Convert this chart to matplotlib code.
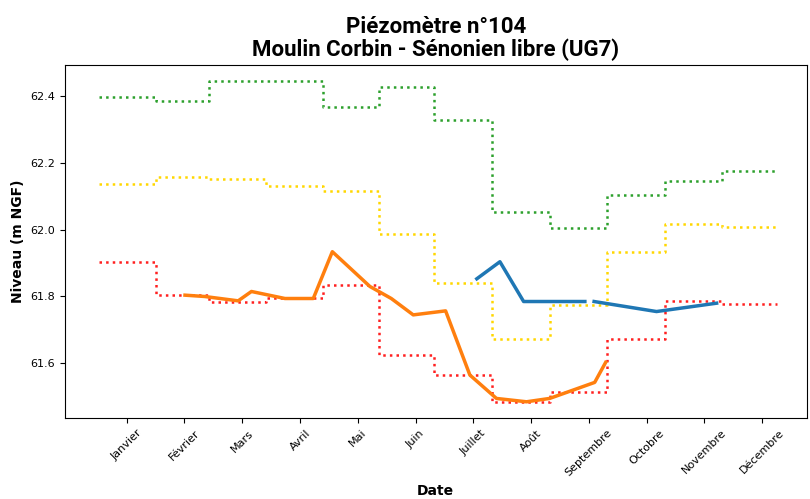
import numpy as np
import matplotlib
matplotlib.use("Agg")
import matplotlib.pyplot as plt

months = ["Janvier", "Février", "Mars", "Avril", "Mai", "Juin", "Juillet",
          "Août", "Septembre", "Octobre", "Novembre", "Décembre"]

# monthly step boundaries (in month units, 0 = Janvier)
step_edges = [-0.48, 0.5, 1.43, 2.41, 3.39, 4.36, 5.32, 6.33, 7.33, 8.31, 9.31, 10.30, 11.25]

high_levels = [62.397, 62.386, 62.446, 62.446, 62.366, 62.427, 62.327,
               62.054, 62.004, 62.104, 62.146, 62.176]
mid_levels = [62.137, 62.157, 62.152, 62.132, 62.116, 61.987, 61.841,
              61.673, 61.775, 61.934, 62.016, 62.009]
low_levels = [61.904, 61.805, 61.785, 61.797, 61.835, 61.625, 61.565,
              61.485, 61.513, 61.673, 61.787, 61.777]

prev_x = [1.01, 1.35, 1.93, 2.16, 2.74, 3.23, 3.56, 4.21, 4.58, 4.96,
          5.52, 5.94, 6.40, 6.92, 7.32, 8.10, 8.29]
prev_y = [61.804, 61.800, 61.787, 61.815, 61.794, 61.794, 61.934, 61.830,
          61.794, 61.745, 61.757, 61.565, 61.495, 61.485, 61.495, 61.543, 61.603]

cur_x = [6.06, 6.46, 6.87, 7.93, 8.01, 8.09, 9.17, 10.21]
cur_y = [61.853, 61.904, 61.785, 61.785, np.nan, 61.785, 61.755, 61.780]

fig = plt.figure(figsize=(8.10, 4.99), dpi=100)
ax = fig.add_axes([0.080, 0.162, 0.916, 0.708])

def step_line(levels, color):
    ys = list(levels) + [levels[-1]]
    ax.step(step_edges, ys, where="post", color=color, linestyle=":", linewidth=1.8)

step_line(high_levels, "#2ca02c")
step_line(mid_levels, "#ffd700")
step_line(low_levels, "#ff2020")

ax.plot(prev_x, prev_y, color="#ff7f0e", linewidth=2.5)
ax.plot(cur_x, cur_y, color="#1f77b4", linewidth=2.5)

ax.set_xlim(-1.07, 11.77)
ax.set_ylim(61.436, 62.493)
ax.set_xticks(range(len(months)))
ax.set_xticklabels(months, rotation=45, fontsize=8)
ax.set_yticks([61.6, 61.8, 62.0, 62.2, 62.4])
ax.set_yticklabels(["61.6", "61.8", "62.0", "62.2", "62.4"], fontsize=8)

ax.set_xlabel("Date", fontsize=10, fontweight="bold")
ax.set_ylabel("Niveau (m NGF)", fontsize=10, fontweight="bold")
ax.set_title("Piézomètre n°104\nMoulin Corbin - Sénonien libre (UG7)",
             fontsize=16, fontweight="bold", family="Roboto", linespacing=1.05)

fig.savefig("out.png", dpi=100)
